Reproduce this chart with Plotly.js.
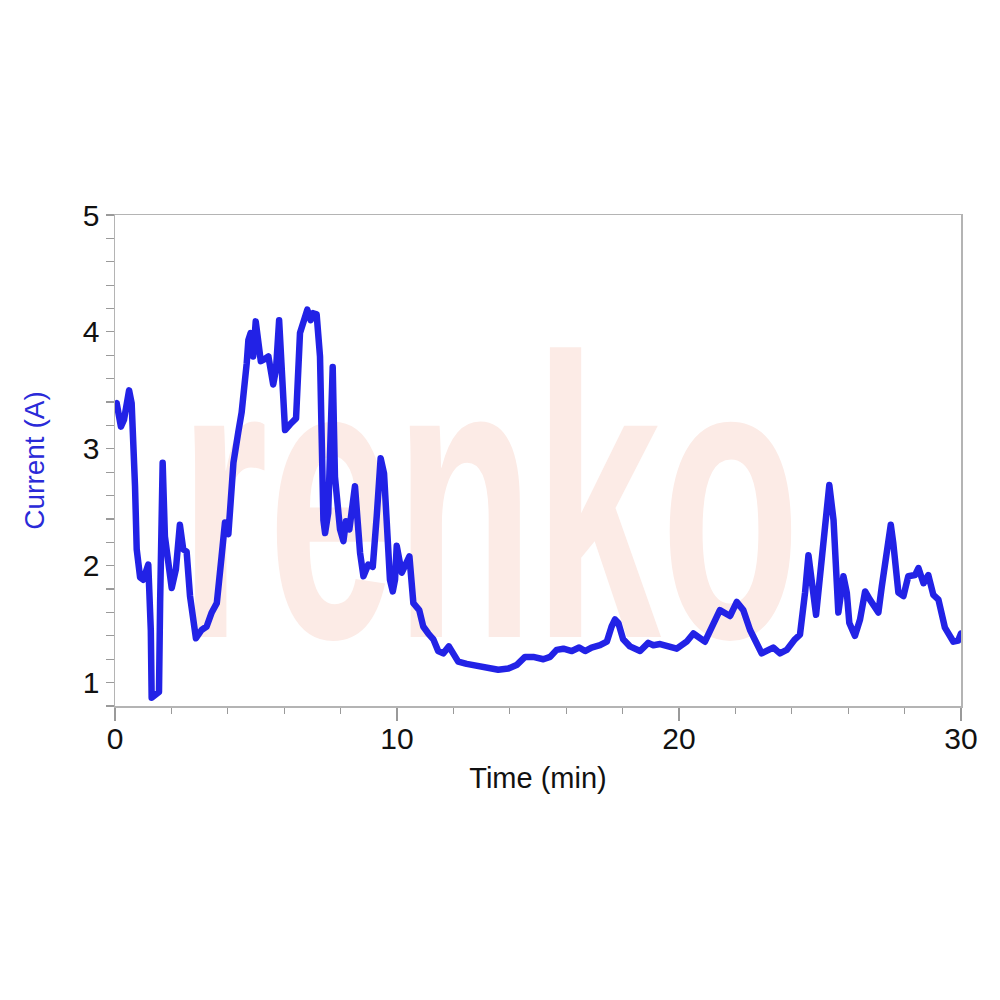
<!DOCTYPE html>
<html>
<head>
<meta charset="utf-8">
<script src="https://cdn.plot.ly/plotly-3.0.1.min.js"></script>
<style>html,body{margin:0;padding:0;background:#fff;}#chart{width:1000px;height:1000px;}</style>
</head>
<body>
<div id="chart"></div>
<script>
// Time in minutes
var timeMin = [0.00,0.06,0.21,0.32,0.50,0.59,0.71,0.77,0.89,1.00,1.18,1.27,1.30,1.45,1.56,1.60,1.69,1.77,2.01,2.16,
  2.30,2.42,2.54,2.66,2.87,3.07,3.25,3.43,3.61,3.78,3.90,4.02,4.20,4.37,4.49,4.67,4.73,4.81,4.90,4.99,
  5.08,5.17,5.32,5.44,5.61,5.71,5.82,5.91,6.03,6.21,6.42,6.56,6.68,6.82,6.94,7.03,7.15,7.27,7.39,7.45,
  7.56,7.72,7.80,7.98,8.10,8.19,8.31,8.51,8.69,8.81,8.98,9.14,9.28,9.42,9.54,9.64,9.75,9.85,9.93,9.99,
  10.17,10.44,10.58,10.79,10.93,11.11,11.29,11.46,11.64,11.84,12.00,12.17,12.47,12.83,13.18,13.59,13.95,14.24,14.54,14.83,
  15.19,15.43,15.66,15.90,16.20,16.46,16.67,16.90,17.20,17.44,17.61,17.73,17.85,18.02,18.26,18.62,18.91,19.09,19.33,19.56,
  19.92,20.27,20.51,20.92,21.22,21.45,21.81,22.05,22.28,22.52,22.93,23.17,23.34,23.58,23.82,24.11,24.29,24.47,24.59,24.86,
  25.12,25.33,25.48,25.65,25.83,25.95,26.04,26.24,26.42,26.60,26.77,27.07,27.19,27.37,27.51,27.60,27.78,27.96,28.13,28.37,
  28.49,28.67,28.84,29.02,29.20,29.43,29.73,29.90,30.00];
// Current in amperes
var currentA = [3.38,3.39,3.19,3.25,3.50,3.39,2.68,2.14,1.90,1.88,2.01,1.45,0.87,0.90,0.92,1.68,2.88,2.25,1.81,1.97,
  2.35,2.14,2.12,1.74,1.38,1.45,1.48,1.60,1.68,2.08,2.37,2.27,2.88,3.14,3.31,3.73,3.93,3.99,3.79,4.09,
  3.96,3.75,3.77,3.79,3.55,3.68,4.10,3.70,3.16,3.21,3.26,3.99,4.10,4.19,4.10,4.16,4.15,3.79,2.39,2.28,
  2.45,3.70,2.76,2.31,2.21,2.38,2.31,2.68,2.11,1.91,2.01,1.99,2.42,2.92,2.79,2.28,1.88,1.78,1.88,2.17,
  1.94,2.08,1.68,1.62,1.48,1.42,1.37,1.27,1.25,1.31,1.25,1.18,1.16,1.14,1.13,1.11,1.12,1.15,1.22,1.22,
  1.20,1.22,1.28,1.29,1.27,1.30,1.27,1.30,1.32,1.35,1.48,1.54,1.51,1.37,1.31,1.27,1.34,1.32,1.33,1.31,
  1.29,1.35,1.42,1.35,1.52,1.62,1.57,1.69,1.62,1.45,1.25,1.28,1.30,1.25,1.28,1.37,1.41,1.77,2.09,1.58,
  2.19,2.69,2.39,1.60,1.91,1.77,1.51,1.40,1.54,1.78,1.71,1.60,1.82,2.11,2.35,2.19,1.77,1.74,1.91,1.92,
  1.98,1.85,1.92,1.75,1.71,1.47,1.35,1.36,1.42];

var xTitle = 'Time (min)';
var yTitle = 'Current (A)';
var watermark = 'renko';

var fontFam = 'Arial, "Liberation Sans", sans-serif';
var axisFont = {family: fontFam, size: 30, color: '#111111'};

var trace = {
  x: timeMin, y: currentA, type: 'scatter', mode: 'lines',
  line: {color: '#2222e6', width: 6.5, shape: 'linear'},
  hoverinfo: 'skip', showlegend: false
};

var layout = {
  width: 1000, height: 1000,
  margin: {l: 115, r: 39, t: 215, b: 294, pad: 0},
  paper_bgcolor: '#ffffff', plot_bgcolor: '#ffffff',
  showlegend: false,
  xaxis: {
    range: [0, 30], tick0: 0, dtick: 10,
    showgrid: false, zeroline: false,
    showline: true, linecolor: '#b4b4b4', linewidth: 1.5, mirror: true,
    ticks: 'outside', ticklen: 13, tickwidth: 1.2, tickcolor: '#9a9a9a',
    tickfont: axisFont, ticklabelstandoff: -8,
    minor: {dtick: 2, tick0: 0, ticks: 'outside', ticklen: 6, tickwidth: 1.2, tickcolor: '#9a9a9a', showgrid: false},
    title: {text: xTitle, font: {family: fontFam, size: 29, color: '#111111'}, standoff: 14}
  },
  yaxis: {
    range: [0.8, 5], tick0: 0, dtick: 1,
    showgrid: false, zeroline: false,
    showline: true, linecolor: '#b4b4b4', linewidth: 1.5, mirror: true,
    ticks: 'outside', ticklen: 8, tickwidth: 1.2, tickcolor: '#9a9a9a',
    tickfont: axisFont,
    minor: {dtick: 0.2, tick0: 0, ticks: 'outside', ticklen: 8, tickwidth: 1.2, tickcolor: '#9a9a9a', showgrid: false},
    title: {text: yTitle, font: {family: fontFam, size: 28, color: '#2a2ad8'}, standoff: 30}
  },
  annotations: [{
    text: watermark, xref: 'paper', yref: 'paper', x: 0.443, y: 0.4228,
    xanchor: 'center', yanchor: 'middle', showarrow: false,
    font: {family: fontFam, size: 400, weight: 'bold', color: '#fcebe6'}
  }]
};

var gd = document.getElementById('chart');
Plotly.newPlot(gd, [trace], layout, {staticPlot: true, displayModeBar: false}).then(function () {
  // put the faint watermark behind the data and narrow it like the original logo
  var ann = gd.querySelector('.infolayer .annotation');
  var below = gd.querySelector('.layer-below');
  if (ann && below) {
    below.appendChild(ann);
    var t = ann.querySelector('text');
    if (t) {
      var bb = t.getBBox();
      var cx = bb.x + bb.width / 2;
      t.setAttribute('transform', 'translate(' + cx + ',0) scale(0.57,1) translate(' + (-cx) + ',0)');
    }
  }
  var paths = gd.querySelectorAll('.scatterlayer .js-line');
  for (var i = 0; i < paths.length; i++) {
    paths[i].style.strokeLinejoin = 'round';
    paths[i].style.strokeLinecap = 'round';
  }
});
</script>
</body>
</html>
